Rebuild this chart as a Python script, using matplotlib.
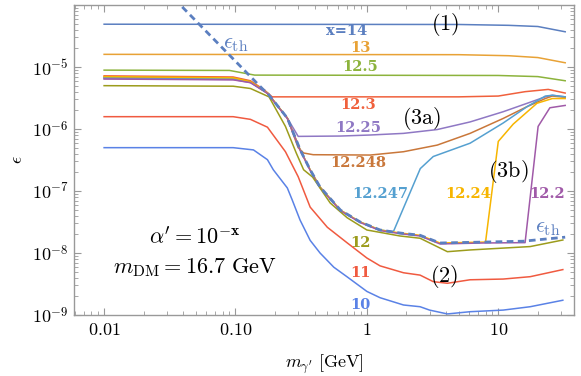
import matplotlib
matplotlib.use("Agg")
import matplotlib.pyplot as plt
from matplotlib.ticker import FixedLocator, FixedFormatter, LogLocator, NullFormatter

plt.rcParams['mathtext.fontset'] = 'cm'
plt.rcParams['font.family'] = 'serif'

# curves: dark photon mass [GeV] vs epsilon, labelled by x in alpha' = 10^-x
m_14 = [0.01, 5, 12, 20, 32.3]
eps_14 = [4.9e-5, 4.85e-5, 4.7e-5, 4.5e-5, 3.7e-5]

m_13 = [0.01, 5, 12, 20, 32.3]
eps_13 = [1.6e-5, 1.58e-5, 1.52e-5, 1.42e-5, 1.17e-5]

m_125 = [0.01, 0.09, 0.14, 10, 20, 32.3]
eps_125 = [8.9e-6, 8.8e-6, 7.4e-6, 7.3e-6, 7.0e-6, 6.0e-6]

m_123 = [0.01, 0.096, 0.13, 0.165, 0.19, 1, 5, 10, 16, 24, 32.3]
eps_123 = [7.2e-6, 6.9e-6, 6.0e-6, 4.3e-6, 3.3e-6, 3.3e-6, 3.3e-6, 3.4e-6, 4.0e-6, 4.35e-6, 3.8e-6]

m_1225 = [0.01, 0.096, 0.13, 0.175, 0.248, 0.30, 0.63, 1.06, 1.9, 3.43, 6.1, 10.9, 16.6, 22.8, 25.8, 32.3]
eps_1225 = [6.5e-6, 6.3e-6, 5.6e-6, 3.8e-6, 1.5e-6, 7.6e-7, 7.7e-7, 8.0e-7, 8.5e-7, 9.8e-7, 1.3e-6, 1.9e-6, 2.6e-6, 3.3e-6, 3.5e-6, 3.3e-6]

m_12248 = [0.01, 0.096, 0.13, 0.175, 0.248, 0.30, 0.33, 0.39, 1.06, 1.9, 3.43, 6.1, 10.9, 16.6, 22.8, 25.8, 32.3]
eps_12248 = [6.85e-6, 6.6e-6, 5.8e-6, 3.8e-6, 1.5e-6, 5.0e-7, 4.1e-7, 3.85e-7, 3.8e-7, 4.3e-7, 5.5e-7, 8.5e-7, 1.48e-6, 2.3e-6, 3.1e-6, 3.4e-6, 3.25e-6]

m_12247 = [0.01, 0.096, 0.13, 0.175, 0.248, 0.311, 0.37, 0.44, 0.63, 0.89, 1.26, 1.59, 2.55, 3.2, 6.1, 10.9, 16.6, 22.8, 25.8, 32.3]
eps_12247 = [6.7e-6, 6.45e-6, 5.7e-6, 3.8e-6, 1.5e-6, 4.6e-7, 2.2e-7, 1.16e-7, 4.9e-8, 3.16e-8, 2.35e-8, 2.2e-8, 2.3e-7, 3.6e-7, 5.9e-7, 1.25e-6, 2.3e-6, 3.4e-6, 3.5e-6, 3.3e-6]

m_1224 = [0.01, 0.096, 0.13, 0.175, 0.248, 0.311, 0.37, 0.44, 0.63, 0.89, 1.26, 1.79, 2.54, 3.6, 8.0, 10, 13, 19.7, 25.8, 32.3]
eps_1224 = [7.0e-6, 6.7e-6, 5.8e-6, 3.8e-6, 1.5e-6, 4.6e-7, 2.2e-7, 1.16e-7, 4.9e-8, 3.16e-8, 2.35e-8, 2.1e-8, 1.93e-8, 1.45e-8, 1.5e-8, 6.3e-7, 1.2e-6, 2.6e-6, 3.1e-6, 3.1e-6]

m_122 = [0.01, 0.096, 0.13, 0.175, 0.248, 0.311, 0.37, 0.44, 0.63, 0.89, 1.26, 1.79, 2.54, 3.6, 7.7, 16.0, 20.1, 24.7, 32.3]
eps_122 = [6.4e-6, 6.2e-6, 5.6e-6, 3.75e-6, 1.48e-6, 4.5e-7, 2.15e-7, 1.13e-7, 4.8e-8, 3.1e-8, 2.3e-8, 2.05e-8, 1.88e-8, 1.4e-8, 1.45e-8, 1.47e-8, 1.1e-6, 2.2e-6, 2.4e-6]

m_12 = [0.01, 0.096, 0.13, 0.18, 0.24, 0.29, 0.33, 0.386, 0.526, 0.708, 1.0, 1.79, 2.54, 4.1, 6.1, 10.9, 17.5, 31]
eps_12 = [5.0e-6, 4.9e-6, 4.5e-6, 3.3e-6, 1.1e-6, 4.1e-7, 2.2e-7, 1.68e-7, 6.4e-8, 3.7e-8, 2.35e-8, 1.88e-8, 1.73e-8, 1.05e-8, 1.12e-8, 1.2e-8, 1.27e-8, 1.62e-8]

m_11 = [0.01, 0.096, 0.13, 0.175, 0.24, 0.3, 0.37, 0.5, 0.71, 1.0, 1.26, 1.9, 2.54, 3.2, 4.1, 6.1, 10.9, 17.5, 31]
eps_11 = [1.58e-6, 1.58e-6, 1.43e-6, 1.07e-6, 4.3e-7, 1.7e-7, 5.5e-8, 2.6e-8, 1.45e-8, 8.3e-9, 6.2e-9, 4.8e-9, 4.4e-9, 3.45e-9, 3.25e-9, 3.7e-9, 3.8e-9, 4.15e-9, 5.4e-9]

m_10 = [0.01, 0.096, 0.137, 0.175, 0.194, 0.248, 0.27, 0.31, 0.37, 0.44, 0.56, 0.71, 1.0, 1.26, 1.9, 2.54, 3.0, 4.1, 6.1, 10.9, 17.5, 31]
eps_10 = [5.0e-7, 5.0e-7, 4.6e-7, 3.2e-7, 2.2e-7, 1.12e-7, 7.2e-8, 3.4e-8, 1.6e-8, 1.0e-8, 5.9e-9, 4.1e-9, 2.4e-9, 1.9e-9, 1.45e-9, 1.36e-9, 1.2e-9, 1.04e-9, 1.13e-9, 1.2e-9, 1.36e-9, 1.73e-9]

# threshold epsilon
m_th = [0.03, 0.163, 0.175, 0.248, 0.311, 0.37, 0.44, 0.63, 0.89, 1.26, 1.79, 2.54, 3.6, 7.7, 15.5, 32.3]
eps_th = [1.67e-4, 4.3e-6, 3.8e-6, 1.5e-6, 4.6e-7, 2.2e-7, 1.16e-7, 4.9e-8, 3.16e-8, 2.35e-8, 2.1e-8, 1.93e-8, 1.45e-8, 1.5e-8, 1.55e-8, 1.8e-8]

curves = [
    (m_14, eps_14, '#5b7fc0', 'x=14', 347, 31),
    (m_13, eps_13, '#e8a236', '13', 360, 48),
    (m_125, eps_125, '#8cb33c', '12.5', 360, 67),
    (m_123, eps_123, '#f0603c', '12.3', 358, 105),
    (m_1225, eps_1225, '#8f78c4', '12.25', 358, 128),
    (m_12248, eps_12248, '#c9773a', '12.248', 358, 163),
    (m_12247, eps_12247, '#55a0d0', '12.247', 380, 194),
    (m_1224, eps_1224, '#f7b500', '12.24', 468, 194),
    (m_122, eps_122, '#a05aa8', '12.2', 547, 194),
    (m_12, eps_12, '#9c9c1c', '12', 360, 243),
    (m_11, eps_11, '#f05a40', '11', 360, 273),
    (m_10, eps_10, '#5a82e6', '10', 360, 305),
]

W, H = 581, 376
fig = plt.figure(figsize=(W / 100, H / 100), dpi=100)
ax = fig.add_axes([74 / W, 1 - 315 / H, 500 / W, 310 / H])

for m, eps, col, lab, px, py in curves:
    ax.plot(m, eps, color=col, lw=1.1, zorder=2)

ax.plot(m_th, eps_th, color='#5b7fc0', lw=2.0, dashes=(2.4, 1.6), zorder=3)

ax.set_xscale('log')
ax.set_yscale('log')
ax.set_xlim(0.0059, 37.7)
ax.set_ylim(1e-9, 1e-4)

ax.xaxis.set_major_locator(FixedLocator([0.01, 0.1, 1, 10]))
ax.xaxis.set_major_formatter(FixedFormatter([r'$0.01$', r'$0.10$', r'$1$', r'$10$']))
ax.xaxis.set_minor_locator(LogLocator(base=10, subs=range(2, 10), numticks=20))
ax.xaxis.set_minor_formatter(NullFormatter())
ax.yaxis.set_major_locator(FixedLocator([1e-9, 1e-8, 1e-7, 1e-6, 1e-5]))
ax.yaxis.set_major_formatter(FixedFormatter([r'$10^{-9}$', r'$10^{-8}$', r'$10^{-7}$',
                                             r'$10^{-6}$', r'$10^{-5}$']))
ax.yaxis.set_minor_locator(LogLocator(base=10, subs=range(2, 10), numticks=20))
ax.yaxis.set_minor_formatter(NullFormatter())

ax.tick_params(which='both', direction='in', top=True, right=True, color='#999999',
               labelsize=13, pad=4)
ax.tick_params(which='major', length=5, width=0.8)
ax.tick_params(which='minor', length=3, width=0.6)
for s in ax.spines.values():
    s.set_color('#999999')
    s.set_linewidth(1.0)

ax.set_xlabel(r"$m_{\gamma'}\ [\mathrm{GeV}]$", fontsize=13, labelpad=10)
ax.set_ylabel(r'$\epsilon$', fontsize=13, rotation=90, labelpad=4)


def px_text(px, py, s, **kw):
    fig.text(px / W, 1 - py / H, s, ha='center', va='center', **kw)


# bold curve labels
for m, eps, col, lab, px, py in curves:
    px_text(px, py, lab, color=col, fontsize=10.5, fontfamily='DejaVu Serif',
            fontweight='bold')

px_text(236, 43, r'$\epsilon_{\rm th}$', color='#5b7fc0', fontsize=16)
px_text(548, 227, r'$\epsilon_{\rm th}$', color='#5b7fc0', fontsize=16)
px_text(445, 25, r'$\mathrm{(1)}$', fontsize=16)
px_text(422, 118, r'$\mathrm{(3a)}$', fontsize=16)
px_text(508, 172, r'$\mathrm{(3b)}$', fontsize=16)
px_text(444, 277, r'$\mathrm{(2)}$', fontsize=16)
px_text(195, 238, r"$\alpha' = 10^{-\mathbf{x}}$", fontsize=16)
px_text(195, 268, r"$m_{\rm DM} = 16.7\ \mathrm{GeV}$", fontsize=16)

fig.savefig('out.png', dpi=100)
